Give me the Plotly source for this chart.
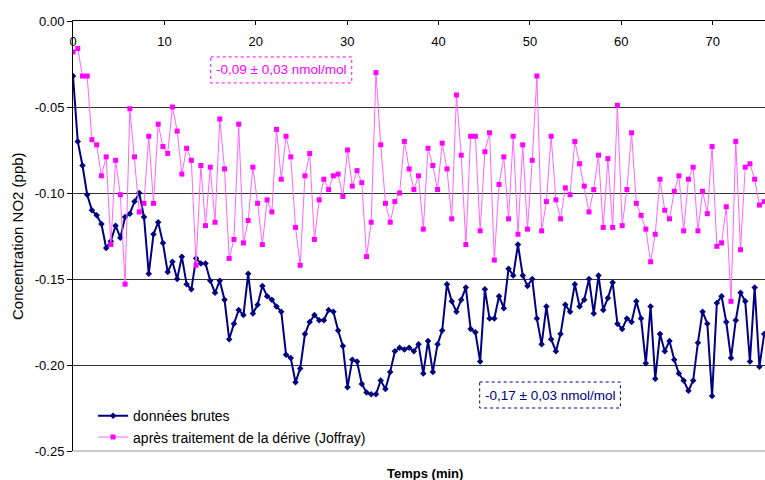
import plotly.graph_objects as go

# Time of each acquisition (min)
temps = [
    0.00, 0.52, 1.04, 1.55, 2.07, 2.59, 3.11, 3.63, 4.14, 4.66,
    5.18, 5.70, 6.22, 6.73, 7.25, 7.77, 8.29, 8.81, 9.32, 9.84,
    10.36, 10.88, 11.40, 11.91, 12.43, 12.95, 13.47, 13.99, 14.50, 15.02,
    15.54, 16.06, 16.58, 17.09, 17.61, 18.13, 18.65, 19.17, 19.68, 20.20,
    20.72, 21.24, 21.76, 22.27, 22.79, 23.31, 23.83, 24.35, 24.86, 25.38,
    25.90, 26.42, 26.94, 27.45, 27.97, 28.49, 29.01, 29.53, 30.04, 30.56,
    31.08, 31.60, 32.12, 32.63, 33.15, 33.67, 34.19, 34.71, 35.22, 35.74,
    36.26, 36.78, 37.30, 37.81, 38.33, 38.85, 39.37, 39.89, 40.40, 40.92,
    41.44, 41.96, 42.48, 42.99, 43.51, 44.03, 44.55, 45.07, 45.58, 46.10,
    46.62, 47.14, 47.66, 48.17, 48.69, 49.21, 49.73, 50.25, 50.76, 51.28,
    51.80, 52.32, 52.84, 53.35, 53.87, 54.39, 54.91, 55.43, 55.94, 56.46,
    56.98, 57.50, 58.02, 58.53, 59.05, 59.57, 60.09, 60.61, 61.12, 61.64,
    62.16, 62.68, 63.20, 63.71, 64.23, 64.75, 65.27, 65.79, 66.30, 66.82,
    67.34, 67.86, 68.38, 68.89, 69.41, 69.93, 70.45, 70.97, 71.48, 72.00,
    72.52, 73.04, 73.56, 74.07, 74.59, 75.11, 75.63,
]

# Raw NO2 concentration (ppb)
donnees_brutes = [
    -0.032, -0.070, -0.084, -0.101, -0.110, -0.113, -0.118, -0.132, -0.128, -0.119,
    -0.126, -0.114, -0.112, -0.105, -0.100, -0.114, -0.147, -0.124, -0.117, -0.129,
    -0.146, -0.140, -0.150, -0.137, -0.153, -0.156, -0.138, -0.141, -0.141, -0.151,
    -0.158, -0.151, -0.162, -0.185, -0.176, -0.168, -0.171, -0.147, -0.170, -0.165,
    -0.154, -0.160, -0.162, -0.166, -0.169, -0.194, -0.196, -0.210, -0.202, -0.182,
    -0.175, -0.171, -0.174, -0.174, -0.168, -0.169, -0.180, -0.189, -0.213, -0.197,
    -0.198, -0.211, -0.216, -0.217, -0.217, -0.209, -0.214, -0.204, -0.192, -0.190,
    -0.191, -0.190, -0.192, -0.188, -0.205, -0.186, -0.204, -0.188, -0.180, -0.153,
    -0.163, -0.169, -0.162, -0.155, -0.179, -0.181, -0.198, -0.156, -0.173, -0.173,
    -0.160, -0.167, -0.144, -0.148, -0.130, -0.148, -0.154, -0.150, -0.173, -0.188,
    -0.166, -0.185, -0.192, -0.182, -0.165, -0.169, -0.153, -0.166, -0.162, -0.150,
    -0.170, -0.148, -0.168, -0.161, -0.152, -0.176, -0.179, -0.173, -0.175, -0.163,
    -0.173, -0.199, -0.166, -0.208, -0.182, -0.192, -0.186, -0.197, -0.205, -0.209,
    -0.215, -0.209, -0.187, -0.169, -0.176, -0.218, -0.164, -0.160, -0.175, -0.196,
    -0.174, -0.158, -0.163, -0.198, -0.155, -0.201, -0.182,
]

# Concentration after drift correction (ppb)
apres_derive = [
    -0.018, -0.016, -0.032, -0.032, -0.069, -0.072, -0.090, -0.079, -0.130, -0.081,
    -0.101, -0.153, -0.051, -0.079, -0.111, -0.106, -0.067, -0.106, -0.060, -0.073,
    -0.077, -0.050, -0.064, -0.089, -0.074, -0.081, -0.142, -0.084, -0.119, -0.085,
    -0.117, -0.057, -0.086, -0.138, -0.127, -0.060, -0.129, -0.116, -0.085, -0.106,
    -0.130, -0.104, -0.111, -0.063, -0.092, -0.067, -0.079, -0.120, -0.142, -0.090,
    -0.077, -0.127, -0.104, -0.092, -0.098, -0.090, -0.089, -0.102, -0.075, -0.096,
    -0.087, -0.094, -0.137, -0.117, -0.030, -0.072, -0.106, -0.117, -0.105, -0.100,
    -0.070, -0.086, -0.098, -0.090, -0.121, -0.074, -0.084, -0.098, -0.071, -0.086,
    -0.115, -0.043, -0.078, -0.130, -0.067, -0.067, -0.122, -0.076, -0.065, -0.139,
    -0.095, -0.079, -0.115, -0.067, -0.124, -0.072, -0.121, -0.081, -0.032, -0.122,
    -0.105, -0.067, -0.104, -0.115, -0.097, -0.101, -0.070, -0.083, -0.096, -0.111,
    -0.098, -0.078, -0.120, -0.080, -0.120, -0.049, -0.119, -0.098, -0.065, -0.106,
    -0.113, -0.121, -0.140, -0.124, -0.092, -0.110, -0.115, -0.099, -0.090, -0.122,
    -0.092, -0.085, -0.122, -0.099, -0.112, -0.073, -0.131, -0.129, -0.108, -0.163,
    -0.070, -0.133, -0.085, -0.083, -0.092, -0.107, -0.105,
]

x_ticks = [0, 10, 20, 30, 40, 50, 60, 70]
y_ticks = [0.0, -0.05, -0.10, -0.15, -0.20, -0.25]
y_tick_labels = ["0.00", "-0.05", "-0.10", "-0.15", "-0.20", "-0.25"]

NAVY = "#000080"
MAGENTA = "#ff00ff"
FONT = "Arial, Liberation Sans, sans-serif"

fig = go.Figure()

fig.add_trace(go.Scatter(
    x=temps, y=donnees_brutes, mode="lines+markers",
    name="données brutes",
    line=dict(color=NAVY, width=2),
    marker=dict(symbol="diamond", size=5, color=NAVY),
))

fig.add_trace(go.Scatter(
    x=temps, y=apres_derive, mode="lines+markers",
    name="après traitement de la dérive (Joffray)",
    line=dict(color="#ff66ff", width=1),
    marker=dict(symbol="square", size=5, color=MAGENTA),
))

# Mean ± uncertainty boxes
boxes = [
    dict(text="-0,09 ± 0,03 nmol/mol", color=MAGENTA, x0=15.07, x1=30.5, y0=-0.0209, y1=-0.0360),
    dict(text="-0,17 ± 0,03 nmol/mol", color=NAVY, x0=44.5, x1=59.9, y0=-0.2099, y1=-0.2250),
]
for b in boxes:
    fig.add_shape(type="rect", xref="x", yref="y",
                  x0=b["x0"], x1=b["x1"], y0=b["y0"], y1=b["y1"],
                  line=dict(color=b["color"], width=1, dash="dot"),
                  fillcolor="white", layer="above")
    fig.add_annotation(x=(b["x0"] + b["x1"]) / 2, y=(b["y0"] + b["y1"]) / 2,
                       xref="x", yref="y", text=b["text"], showarrow=False,
                       font=dict(family=FONT, size=13.5, color=b["color"]))

fig.add_annotation(x=0, xref="paper", y=0.5, yref="paper", xshift=-56,
                   text="Concentration NO2 (ppb)", textangle=-90,
                   showarrow=False, xanchor="center", yanchor="middle",
                   font=dict(family=FONT, size=15, color="black"))

fig.add_annotation(x=0.508, xref="paper", y=0, yref="paper", yshift=-22,
                   text="<b>Temps (min)</b>", showarrow=False,
                   xanchor="center", yanchor="middle",
                   font=dict(family=FONT, size=13, color="black"))

# Lighter frame line along the bottom of the plot area
fig.add_shape(type="line", xref="paper", yref="paper", x0=0, x1=1, y0=0, y1=0,
              line=dict(color="#9a9a9a", width=1), layer="above")

fig.update_layout(
    width=765, height=480,
    margin=dict(l=73, r=0, t=21, b=29),
    paper_bgcolor="white", plot_bgcolor="white",
    font=dict(family=FONT, size=13, color="black"),
    showlegend=True,
    legend=dict(x=0.029, y=0.118, xanchor="left", yanchor="top",
                bgcolor="rgba(0,0,0,0)", font=dict(family=FONT, size=14),
                tracegroupgap=0),
    xaxis=dict(
        range=[0, 75.72], side="top", tickvals=x_ticks,
        ticks="inside", ticklen=4, tickcolor="black",
        ticklabelposition="inside", ticklabeloverflow="allow",
        ticklabelstandoff=12,
        showline=True, linecolor="black", linewidth=1,
        showgrid=False, zeroline=False,
        tickfont=dict(family=FONT, size=13, color="black"),
    ),
    yaxis=dict(
        range=[-0.25, 0], tickvals=y_ticks, ticktext=y_tick_labels,
        ticks="outside", ticklen=5, tickcolor="black",
        ticklabeloverflow="allow",
        showline=True, linecolor="black", linewidth=1,
        showgrid=True, gridcolor="#333333", gridwidth=1,
        zeroline=False,
        tickfont=dict(family=FONT, size=13, color="black"),
    ),
)

fig.write_html("out.html")
